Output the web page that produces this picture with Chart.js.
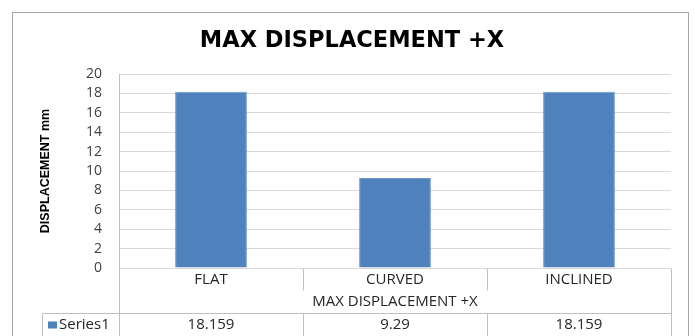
<!DOCTYPE html>
<html>
<head>
<meta charset="utf-8">
<script src="https://cdn.jsdelivr.net/npm/chart.js@4/dist/chart.umd.min.js"></script>
<style>
  html, body { margin: 0; padding: 0; background: #fff; }
  #wrap { width: 695px; height: 336px; position: relative; }
</style>
</head>
<body>
<div id="wrap"><canvas id="chart"></canvas></div>
<script>
const categories = ['FLAT', 'CURVED', 'INCLINED'];
const seriesName = 'Series1';
const seriesValues = [18.159, 9.29, 18.159];
const valueLabels = ['18.159', '9.29', '18.159'];
const groupLabel = 'MAX DISPLACEMENT +X';
const yTicks = [0, 2, 4, 6, 8, 10, 12, 14, 16, 18, 20];

const barColor = '#4f81bd';
const lineColor = '#bfbfbf';
const textColor = '#262626';
const baseFont = '"Open Sans", sans-serif';

// outer frame around the whole chart
const framePlugin = {
  id: 'frame',
  beforeDraw(chart) {
    const ctx = chart.ctx;
    ctx.save();
    ctx.strokeStyle = '#a6a6a6';
    ctx.lineWidth = 1;
    ctx.strokeRect(12.5, 12.5, 676, 340);
    ctx.restore();
  }
};

// Excel style data table under the plot
const dataTablePlugin = {
  id: 'dataTable',
  afterDraw(chart) {
    const ctx = chart.ctx;
    const area = chart.chartArea;
    const x = chart.scales.x;
    const left = Math.round(area.left) + 0.5;
    const right = Math.round(area.right) + 0.5;
    const top = Math.round(area.bottom) + 0.5;
    const row1 = top + 22;
    const row2 = top + 45;
    const bottom = 340;
    const keyLeft = 42.5;

    ctx.save();
    ctx.strokeStyle = lineColor;
    ctx.lineWidth = 1;
    ctx.beginPath();
    // left and right borders
    ctx.moveTo(left, area.top); ctx.lineTo(left, bottom);
    ctx.moveTo(right, top); ctx.lineTo(right, bottom);
    // series row top line and key column
    ctx.moveTo(keyLeft, row2); ctx.lineTo(right, row2);
    ctx.moveTo(keyLeft, row2); ctx.lineTo(keyLeft, bottom);
    // category dividers
    const step = (area.right - area.left) / categories.length;
    for (let i = 1; i < categories.length; i++) {
      const dx = Math.round(area.left + step * i) + 0.5;
      ctx.moveTo(dx, top); ctx.lineTo(dx, row1);
      ctx.moveTo(dx, row2); ctx.lineTo(dx, bottom);
    }
    ctx.stroke();

    ctx.fillStyle = textColor;
    ctx.font = '15px ' + baseFont;
    ctx.textAlign = 'center';
    ctx.textBaseline = 'middle';
    categories.forEach((c, i) => {
      const cx = x.getPixelForValue(i);
      ctx.fillText(c, cx, top + 11);
      ctx.fillText(valueLabels[i], cx, row2 + 11.5);
    });
    ctx.fillText(groupLabel, (area.left + area.right) / 2, row1 + 11.5);

    // legend key
    ctx.fillStyle = barColor;
    ctx.fillRect(48, row2 + 8, 9, 7);
    ctx.fillStyle = textColor;
    ctx.textAlign = 'left';
    ctx.fillText(seriesName, 59, row2 + 11.5);
    ctx.restore();
  }
};

new Chart(document.getElementById('chart'), {
  type: 'bar',
  data: {
    labels: categories,
    datasets: [{
      label: seriesName,
      data: seriesValues,
      backgroundColor: barColor,
      borderColor: '#6f97c9',
      borderWidth: 1,
      barPercentage: 0.39,
      categoryPercentage: 1
    }]
  },
  options: {
    responsive: true,
    maintainAspectRatio: false,
    animation: false,
    layout: { padding: { left: 33, top: 13, right: 24, bottom: 68 } },
    plugins: {
      legend: { display: false },
      tooltip: { enabled: false },
      title: {
        display: true,
        text: 'MAX DISPLACEMENT +X',
        color: '#000',
        font: { family: '"DejaVu Sans", sans-serif', size: 22.5, weight: 'bold' },
        padding: { top: 14.5, bottom: 19.5 }
      }
    },
    scales: {
      x: {
        display: false,
        offset: true
      },
      y: {
        min: 0,
        max: 20,
        afterBuildTicks(scale) {
          scale.ticks = yTicks.map(v => ({ value: v }));
        },
        afterFit(scale) { scale.width = 86; },
        border: { display: false },
        grid: { color: '#d9d9d9', drawTicks: false },
        ticks: {
          color: '#404040',
          padding: 17,
          autoSkip: false,
          font: { family: baseFont, size: 14 }
        },
        title: {
          display: true,
          text: 'DISPLACEMENT mm',
          color: '#000',
          font: { family: '"Liberation Sans Narrow", sans-serif', size: 12.5, weight: 'bold' },
          padding: { top: 5, bottom: 0 }
        }
      }
    }
  },
  plugins: [framePlugin, dataTablePlugin]
});
</script>
</body>
</html>
